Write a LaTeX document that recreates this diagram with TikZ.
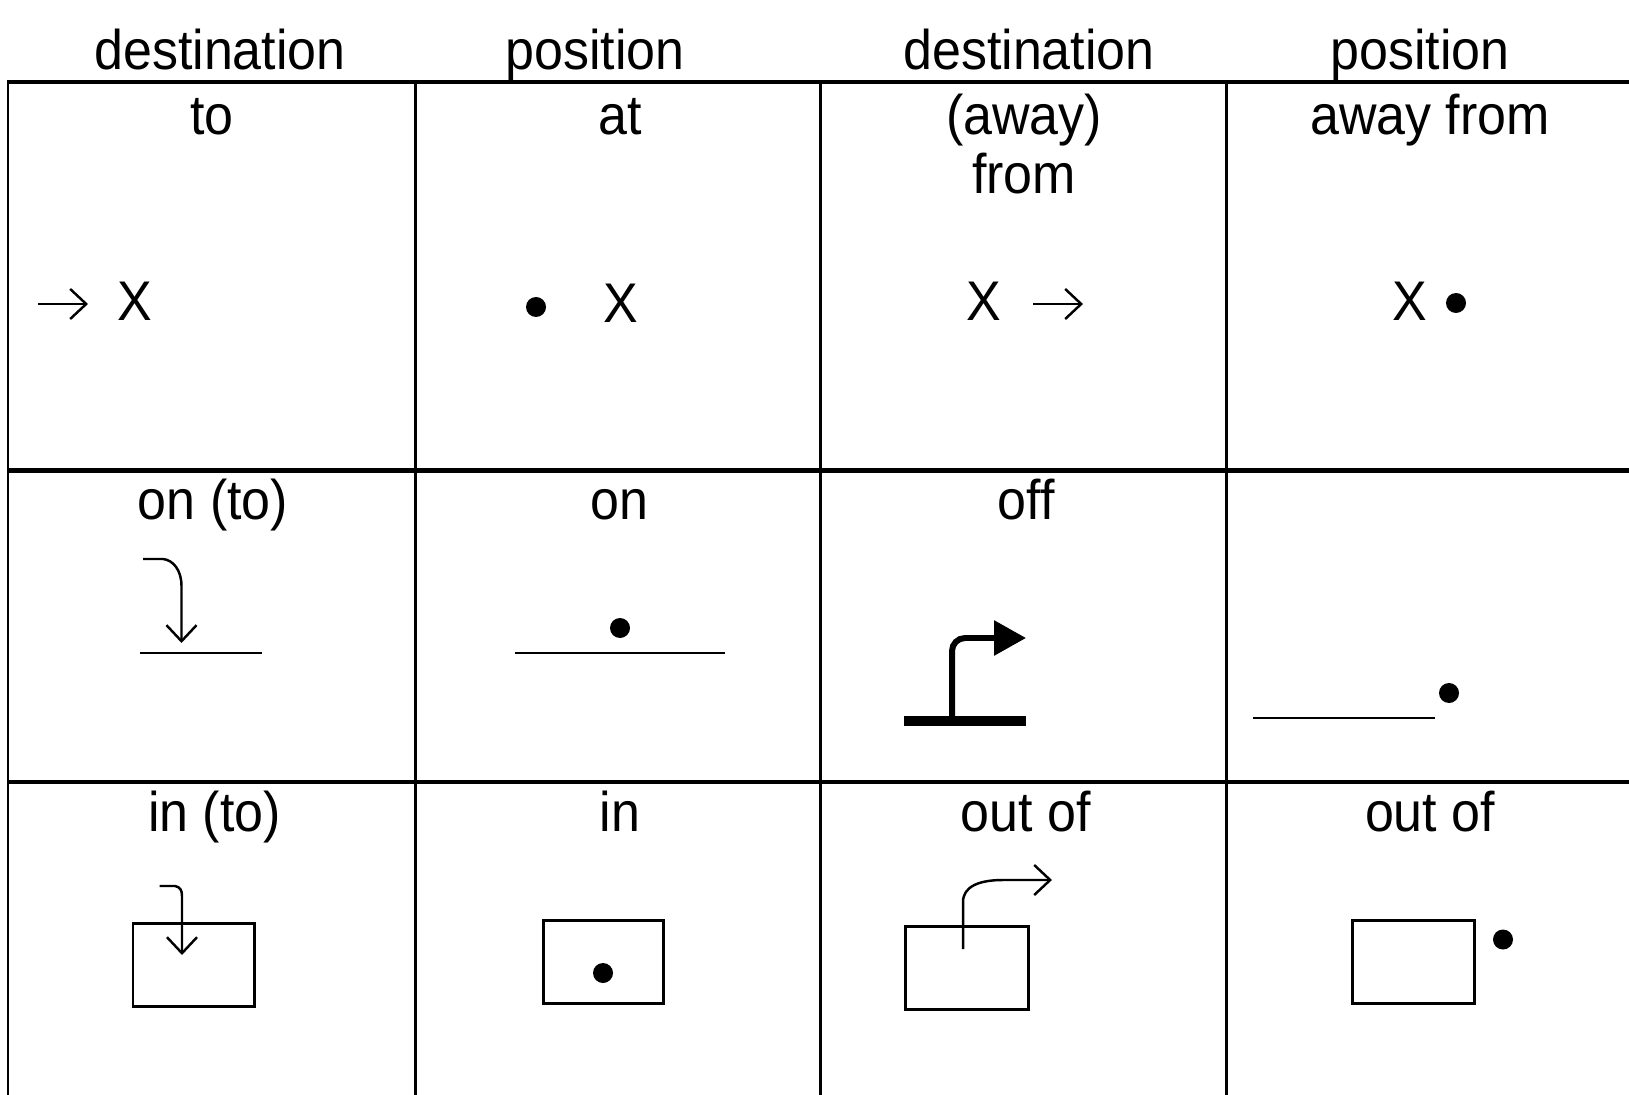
\documentclass[tikz,border=0pt]{standalone}
\usepackage{fontspec}
\setmainfont{Liberation Sans}[FakeStretch=0.93]
\usetikzlibrary{arrows.meta}
\newcommand{\cellfont}{\fontsize{15.9pt}{19pt}\selectfont}
\tikzset{
  word/.style={inner sep=0pt, anchor=base, font=\cellfont},
  hrule/.style={line width=1.15pt},
  vrule/.style={line width=0.75pt},
  move/.style={line width=0.7pt, -{Straight Barb[length=1.6mm,width=3mm]}},
  bigmove/.style={line width=1.7pt, rounded corners=1.3mm, -{Triangle[length=3.2mm,width=3.4mm]}},
  box/.style={line width=0.85pt},
  ground/.style={line width=0.8pt}
}
\begin{document}
\begin{tikzpicture}[y=-1cm]
  \useasboundingbox (0,0) rectangle (16.29,10.95);
  % table lines
  \foreach \y in {0.82,4.705,7.82}
    \draw[hrule] (0.07,\y) -- (16.29,\y);
  \foreach \x in {0.08,4.155,8.205,12.265}
    \draw[vrule] (\x,0.82) -- (\x,10.95);
  % headings
  \node[word] (hdest) at (2.20,0.70) {destination};
  \node[word] (hpos) at (5.95,0.70) {position};
  \node[word] (hdest2) at (10.29,0.70) {destination};
  \node[word] (hpos2) at (14.20,0.70) {position};
  % first row
  \node[word] (to) at (2.12,1.35) {to};
  \node[word] (at) at (6.20,1.35) {at};
  \node[word] (away) at (10.24,1.35) {(away)};
  \node[word] (from) at (10.24,1.94) {from};
  \node[word] (awayfrom) at (14.30,1.35) {away from};
  \draw[move] (0.38,3.04) -- (0.88,3.04);
  \node[word] (xto) at (1.345,3.21) {X};
  \fill (5.36,3.07) circle[radius=1mm];
  \node[word] (xat) at (6.21,3.23) {X};
  \node[word] (xfrom) at (9.835,3.21) {X};
  \draw[move] (10.33,3.04) -- (10.83,3.04);
  \node[word] (xaway) at (14.10,3.21) {X};
  \fill (14.56,3.03) circle[radius=1mm];
  % second row
  \node[word] (onto) at (2.13,5.20) {on (to)};
  \node[word] (on) at (6.19,5.20) {on};
  \node[word] (off) at (10.26,5.20) {off};
  \draw[move] (1.43,5.59) -- (1.63,5.59) .. controls (1.73,5.60) and (1.815,5.70) .. (1.815,5.86) -- (1.815,6.43);
  \draw[ground] (1.40,6.53) -- (2.617,6.53);
  \fill (6.20,6.28) circle[radius=1mm];
  \draw[ground] (5.15,6.53) -- (7.25,6.53);
  \draw[line width=2.85pt] (9.04,7.21) -- (10.26,7.21);
  \draw[bigmove] (9.52,7.16) |- (10.26,6.38);
  \draw[ground] (12.53,7.18) -- (14.35,7.18);
  \fill (14.49,6.93) circle[radius=1mm];
  % third row
  \node[word] (into) at (2.145,8.31) {in (to)};
  \node[word] (in) at (6.20,8.31) {in};
  \node[word] (outof) at (10.255,8.31) {out of};
  \node[word] (outof2) at (14.30,8.31) {out of};
  \draw[box] (1.33,9.23) rectangle (2.547,10.067);
  \draw[move] (1.595,8.86) -- (1.75,8.86) .. controls (1.80,8.87) and (1.82,8.90) .. (1.82,8.96) -- (1.82,9.55);
  \draw[box] (5.43,9.20) rectangle (6.63,10.03);
  \fill (6.03,9.73) circle[radius=1mm];
  \draw[box] (9.05,9.267) rectangle (10.28,10.093);
  \draw[move] (9.63,9.49) -- (9.63,9.02) .. controls (9.63,8.86) and (9.80,8.80) .. (10.03,8.80) -- (10.52,8.80);
  \draw[box] (13.52,9.20) rectangle (14.74,10.03);
  \fill (15.03,9.395) circle[radius=1mm];
\end{tikzpicture}
\end{document}
